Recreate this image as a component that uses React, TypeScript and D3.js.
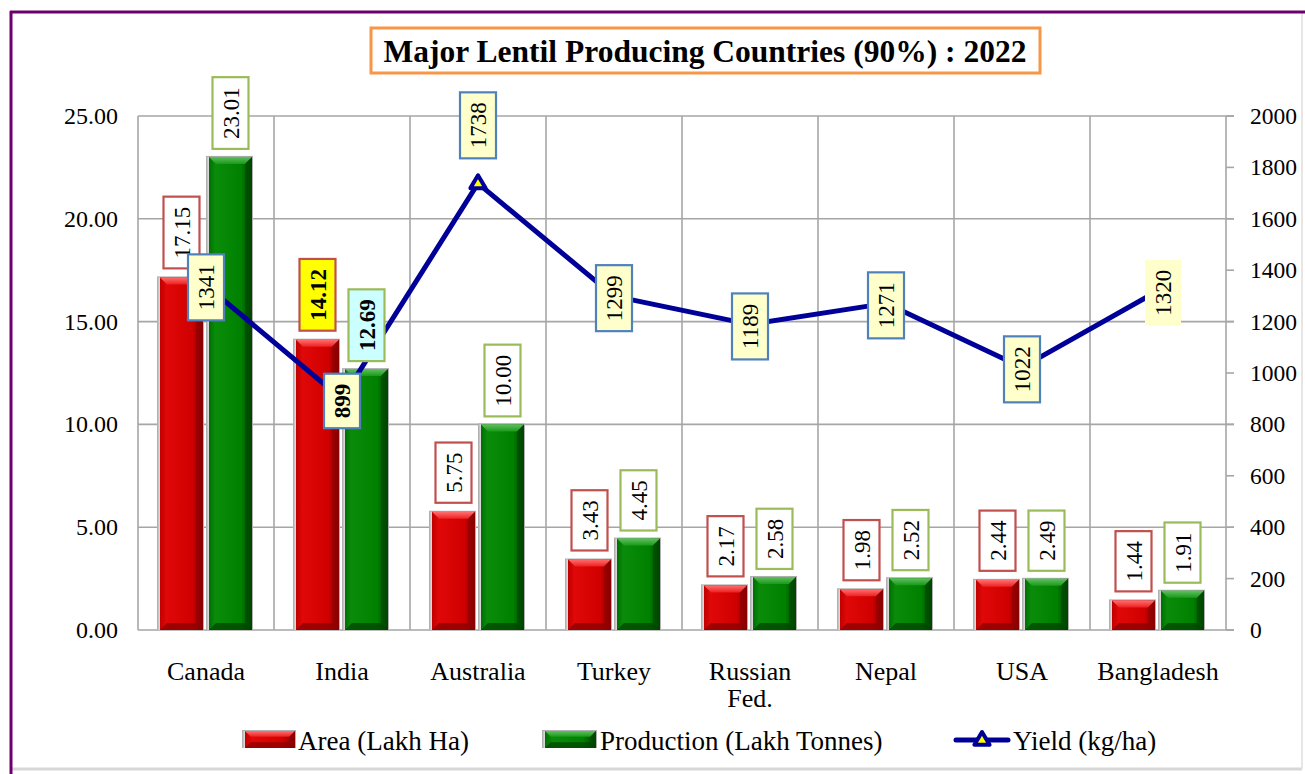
import React from "react";
import * as d3 from "d3";

const countries = ["Canada", "India", "Australia", "Turkey", "Russian Fed.", "Nepal", "USA", "Bangladesh"];
const area = [17.15, 14.12, 5.75, 3.43, 2.17, 1.98, 2.44, 1.44];
const production = [23.01, 12.69, 10.0, 4.45, 2.58, 2.52, 2.49, 1.91];
const yieldKg = [1341, 899, 1738, 1299, 1189, 1271, 1022, 1320];
const leftTicks = [0, 5, 10, 15, 20, 25];
const rightTicks = [0, 200, 400, 600, 800, 1000, 1200, 1400, 1600, 1800, 2000];

const W = 1305;
const H = 774;
const FONT = "'Liberation Serif', 'Times New Roman', serif";
const LABEL_FS = 23;

// highlighted labels (India)
const areaBg: Record<string, string> = { India: "#ffff00" };
const prodBg: Record<string, string> = { India: "#ccffff" };
const boldSet = new Set(["India"]);

function textLen(s: string) {
  let w = 0;
  for (const ch of s) w += ch === "." ? LABEL_FS * 0.25 : LABEL_FS * 0.5;
  return w;
}
const boxH = (s: string) => textLen(s) + 20;

function LabelBox(props: {
  cx: number; cy: number; text: string; border: string | null; bg: string; bold?: boolean;
}) {
  const { cx, cy, text, border, bg, bold } = props;
  const h = boxH(text);
  const w = 36;
  return (
    <g>
      <rect x={cx - w / 2} y={cy - h / 2} width={w} height={h} fill={bg}
        stroke={border ?? "none"} strokeWidth={2.2} />
      <text transform={`translate(${cx + 8},${cy}) rotate(-90)`} textAnchor="middle"
        fontSize={LABEL_FS} fontWeight={bold ? "bold" : "normal"} fill="#000">{text}</text>
    </g>
  );
}

function Bar(props: { x: number; w: number; y0: number; y1: number; kind: "red" | "green" }) {
  const { x, w, y0, y1, kind } = props;
  const h = y0 - y1;
  const b = Math.min(7, h / 3);
  const id = kind;
  return (
    <g>
      <rect x={x - 3} y={y1 - 1} width={w + 4} height={h + 1} fill="#b0b0b0" />
      <rect x={x - 1.5} y={y1} width={w + 1} height={h} fill="#d8d8d8" />
      <rect x={x} y={y1} width={w} height={h} fill={`url(#body-${id})`} />
      <polygon points={`${x},${y1} ${x + w},${y1} ${x + w - b},${y1 + b} ${x + b},${y1 + b}`}
        fill={`url(#top-${id})`} />
      <polygon points={`${x},${y0} ${x + w},${y0} ${x + w - b},${y0 - b} ${x + b},${y0 - b}`}
        fill={kind === "red" ? "#8a0000" : "#004400"} opacity={0.75} />
      <polygon points={`${x + w},${y1} ${x + w},${y0} ${x + w - b},${y0 - b} ${x + w - b},${y1 + b}`}
        fill={kind === "red" ? "#900000" : "#004a00"} opacity={0.6} />
    </g>
  );
}

function Triangle(props: { cx: number; cy: number; s: number }) {
  const { cx, cy, s } = props;
  return (
    <polygon points={`${cx},${cy - s} ${cx + s * 0.95},${cy + s * 0.6} ${cx - s * 0.95},${cy + s * 0.6}`}
      fill="#ffff00" stroke="#000099" strokeWidth={4} strokeLinejoin="round" />
  );
}

export default function App() {
  const left = 138, right = 1226, top = 116, bottom = 630;
  const x = d3.scaleBand<string>().domain(countries).range([left, right]).padding(0);
  const y = d3.scaleLinear().domain([0, 25]).range([bottom, top]);
  const y2 = d3.scaleLinear().domain([0, 2000]).range([bottom, top]);
  const bw = 43;
  const cx = (c: string) => (x(c) ?? 0) + x.bandwidth() / 2;

  const line = d3.line<number>()
    .x((_, i) => cx(countries[i]))
    .y((d) => y2(d));
  const maxYield = d3.max(yieldKg) ?? 0;

  return (
    <svg width={W} height={H} style={{ position: "absolute", left: 0, top: 0, fontFamily: FONT }}>
      <defs>
        <linearGradient id="body-red" x1="0" x2="1" y1="0" y2="0">
          <stop offset="0" stopColor="#c00000" />
          <stop offset="0.15" stopColor="#e00808" />
          <stop offset="0.75" stopColor="#d00000" />
          <stop offset="1" stopColor="#7a0000" />
        </linearGradient>
        <linearGradient id="top-red" x1="0" x2="0" y1="0" y2="1">
          <stop offset="0" stopColor="#ff7070" />
          <stop offset="1" stopColor="#ee2020" />
        </linearGradient>
        <linearGradient id="body-green" x1="0" x2="1" y1="0" y2="0">
          <stop offset="0" stopColor="#007000" />
          <stop offset="0.15" stopColor="#0a8c0a" />
          <stop offset="0.75" stopColor="#008000" />
          <stop offset="1" stopColor="#003c00" />
        </linearGradient>
        <linearGradient id="top-green" x1="0" x2="0" y1="0" y2="1">
          <stop offset="0" stopColor="#60c060" />
          <stop offset="1" stopColor="#1a9a1a" />
        </linearGradient>
      </defs>

      {/* frame */}
      <rect x={0} y={0} width={W} height={H} fill="#fff" />
      <line x1={12} x2={1302} y1={769} y2={769} stroke="#d6d6d6" strokeWidth={3} />
      <line x1={1302} x2={1302} y1={13} y2={769} stroke="#e6e6e6" strokeWidth={2} />
      <line x1={10} x2={W} y1={12} y2={12} stroke="#6d006d" strokeWidth={3} />
      <line x1={11} x2={11} y1={11} y2={H} stroke="#6d006d" strokeWidth={3} />

      {/* title */}
      <rect x={371} y={28} width={669} height={45} fill="#fff" stroke="#f79646" strokeWidth={3} />
      <text x={705} y={62} textAnchor="middle" fontSize={31.5} fontWeight="bold">
        Major Lentil Producing Countries (90%) : 2022
      </text>

      {/* grid */}
      {leftTicks.map((t) => (
        <line key={"h" + t} x1={left} x2={right + 8} y1={y(t)} y2={y(t)} stroke="#a6a6a6" strokeWidth={1.6} />
      ))}
      {rightTicks.map((t) => (
        <line key={"r" + t} x1={right} x2={right + 8} y1={y2(t)} y2={y2(t)} stroke="#a6a6a6" strokeWidth={1.6} />
      ))}
      {countries.map((c) => (
        <line key={"v" + c} x1={x(c)} x2={x(c)} y1={top} y2={bottom} stroke="#a6a6a6" strokeWidth={1.6} />
      ))}
      <line x1={right} x2={right} y1={top} y2={bottom} stroke="#a6a6a6" strokeWidth={1.6} />

      {/* axis labels */}
      {leftTicks.map((t) => (
        <text key={"lt" + t} x={118} y={y(t) + 8} textAnchor="end" fontSize={24}>{t.toFixed(2)}</text>
      ))}
      {rightTicks.map((t) => (
        <text key={"rt" + t} x={1250} y={y2(t) + 8} fontSize={23.5}>{t}</text>
      ))}
      {countries.map((c) => {
        const parts = c.split(" ");
        return (
          <text key={"c" + c} x={cx(c)} y={680} textAnchor="middle" fontSize={26}>
            {parts.map((p, i) => (
              <tspan key={i} x={cx(c)} dy={i === 0 ? 0 : 27}>{p}</tspan>
            ))}
          </text>
        );
      })}

      {/* bars */}
      {countries.map((c, i) => (
        <g key={"b" + c}>
          <Bar x={cx(c) - 3 - bw} w={bw} y0={bottom} y1={y(area[i])} kind="red" />
          <Bar x={cx(c) + 3} w={bw} y0={bottom} y1={y(production[i])} kind="green" />
        </g>
      ))}

      {/* yield line */}
      <path d={line(yieldKg) ?? ""} fill="none" stroke="#000099" strokeWidth={5} strokeLinejoin="round" />
      {yieldKg.map((v, i) => (
        <Triangle key={"t" + i} cx={cx(countries[i])} cy={y2(v)} s={8} />
      ))}

      {/* bar labels */}
      {countries.map((c, i) => {
        const ta = area[i].toFixed(2);
        const tp = production[i].toFixed(2);
        return (
          <g key={"l" + c}>
            <LabelBox cx={cx(c) - 3 - bw / 2} cy={y(area[i]) - 9 - boxH(ta) / 2} text={ta}
              border="#c0504d" bg={areaBg[c] ?? "#fff"} bold={boldSet.has(c)} />
            <LabelBox cx={cx(c) + 3 + bw / 2} cy={y(production[i]) - 8 - boxH(tp) / 2} text={tp}
              border="#9bbb59" bg={prodBg[c] ?? "#fff"} bold={boldSet.has(c)} />
          </g>
        );
      })}

      {/* yield labels */}
      {yieldKg.map((v, i) => {
        const c = countries[i];
        const t = String(v);
        const cyv = v === maxYield ? y2(v) - 25 - boxH(t) / 2 : y2(v) + 2;
        const last = i === countries.length - 1;
        return (
          <LabelBox key={"y" + c} cx={cx(c) + (last ? 5 : 0)} cy={cyv} text={t}
            border={last ? null : "#4f81bd"} bg="#ffffcc" bold={boldSet.has(c)} />
        );
      })}

      {/* legend */}
      <g>
        <Bar x={245} w={50} y0={748} y1={731} kind="red" />
        <text x={298} y={750} fontSize={27}>Area (Lakh Ha)</text>
        <Bar x={545} w={51} y0={748} y1={731} kind="green" />
        <text x={600} y={750} fontSize={27}>Production (Lakh Tonnes)</text>
        <line x1={956} x2={1008} y1={740} y2={740} stroke="#000099" strokeWidth={5} strokeLinecap="round" />
        <Triangle cx={982} cy={740} s={8} />
        <text x={1013} y={750} fontSize={27}>Yield (kg/ha)</text>
      </g>
    </svg>
  );
}
